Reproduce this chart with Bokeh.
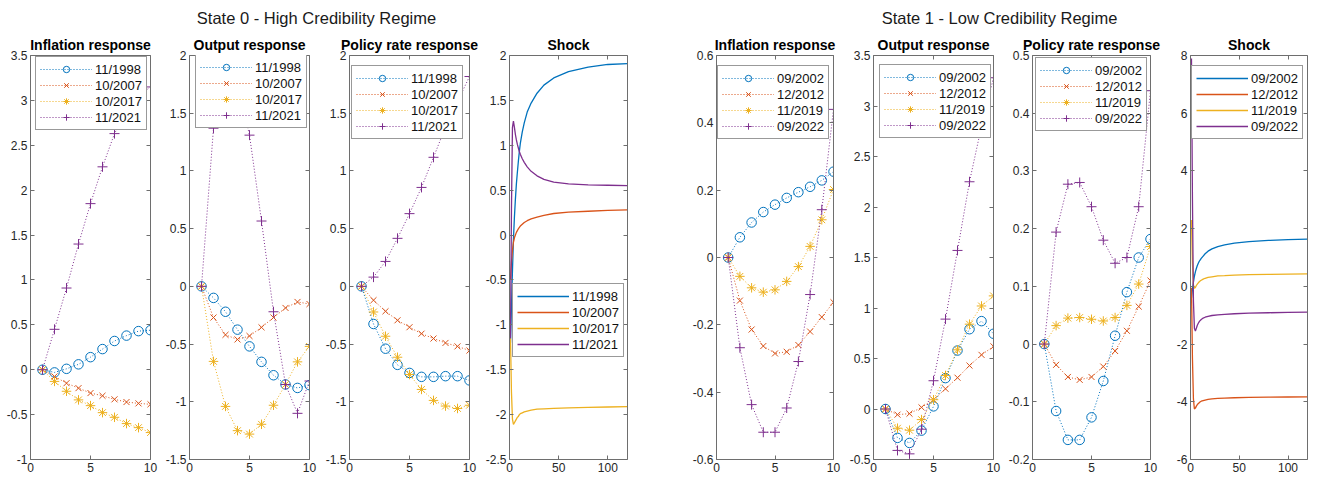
from bokeh.plotting import figure
from bokeh.models import (Range1d, LinearAxis, FixedTicker, Legend, LegendItem, Label,
                          CustomJSTickFormatter)
from bokeh.layouts import row, column
from bokeh.embed import file_html
from bokeh.resources import INLINE

# ---------------- data ----------------
x_resp = [1, 2, 3, 4, 5, 6, 7, 8, 9, 10]

labels_s0 = ["11/1998", "10/2007", "10/2017", "11/2021"]
labels_s1 = ["09/2002", "12/2012", "11/2019", "09/2022"]

# State 0 - inflation response
infl0_1998 = [0, -0.03, 0.01, 0.06, 0.14, 0.23, 0.32, 0.38, 0.43, 0.44]
infl0_2007 = [0, -0.075, -0.15, -0.205, -0.26, -0.29, -0.33, -0.36, -0.375, -0.385]
infl0_2017 = [0, -0.13, -0.24, -0.336, -0.40, -0.478, -0.53, -0.60, -0.645, -0.70]
infl0_2021 = [0, 0.45, 0.91, 1.40, 1.85, 2.26, 2.63, 2.88, 3.05, 3.15]
# State 0 - output response
out0_1998 = [0, -0.10, -0.22, -0.375, -0.52, -0.654, -0.77, -0.85, -0.88, -0.856]
out0_2007 = [0, -0.27, -0.42, -0.46, -0.43, -0.355, -0.27, -0.187, -0.135, -0.153]
out0_2017 = [0, -0.65, -1.04, -1.25, -1.28, -1.195, -1.03, -0.85, -0.654, -0.52]
out0_2021 = [0, 1.37, 1.85, 1.75, 1.31, 0.566, -0.22, -0.85, -1.1, -0.82]
# State 0 - policy rate response
pol0_1998 = [0, -0.326, -0.54, -0.68, -0.75, -0.784, -0.784, -0.778, -0.778, -0.815]
pol0_2007 = [0, -0.12, -0.216, -0.294, -0.354, -0.41, -0.452, -0.49, -0.52, -0.556]
pol0_2017 = [0, -0.222, -0.432, -0.614, -0.764, -0.893, -0.988, -1.037, -1.058, -1.03]
pol0_2021 = [0, 0.08, 0.216, 0.416, 0.63, 0.857, 1.118, 1.38, 1.6, 1.818]

# State 1 - inflation response
infl1_2002 = [0, 0.06, 0.104, 0.135, 0.157, 0.177, 0.194, 0.21, 0.229, 0.255]
infl1_2012 = [0, -0.128, -0.214, -0.263, -0.285, -0.28, -0.26, -0.22, -0.177, -0.133]
infl1_2019 = [0, -0.056, -0.09, -0.103, -0.096, -0.071, -0.027, 0.033, 0.112, 0.202]
infl1_2022 = [0, -0.268, -0.437, -0.519, -0.519, -0.447, -0.309, -0.11, 0.142, 0.44]
# State 1 - output response
out1_2002 = [0, -0.286, -0.336, -0.214, 0.026, 0.306, 0.579, 0.79, 0.87, 0.745]
out1_2012 = [0, -0.056, -0.046, 0.016, 0.092, 0.2, 0.31, 0.43, 0.536, 0.62]
out1_2019 = [0, -0.19, -0.21, -0.105, 0.092, 0.332, 0.586, 0.84, 1.02, 1.12]
out1_2022 = [0, -0.41, -0.444, -0.2, 0.28, 0.89, 1.57, 2.25, 2.8, 3.28]
# State 1 - policy rate response
pol1_2002 = [0, -0.116, -0.166, -0.166, -0.127, -0.064, 0.0145, 0.09, 0.15, 0.182]
pol1_2012 = [0, -0.036, -0.057, -0.062, -0.057, -0.039, -0.012, 0.023, 0.065, 0.11]
pol1_2019 = [0, 0.032, 0.045, 0.046, 0.043, 0.04, 0.046, 0.067, 0.104, 0.169]
pol1_2022 = [0, 0.194, 0.277, 0.28, 0.238, 0.18, 0.14, 0.15, 0.238, 0.439]

# Shock paths (sampled horizons)
shock_x = [1, 2, 3, 4, 5, 6, 7, 8, 9, 10, 11, 13, 15, 18, 22, 28, 35, 45, 60, 80, 100, 120]
shock0_1998 = [-1.2, -0.8, -0.4, -0.05, 0.2, 0.4, 0.57, 0.7, 0.82, 0.93, 1.02, 1.15, 1.25, 1.37,
               1.47, 1.58, 1.67, 1.75, 1.82, 1.87, 1.9, 1.91]
shock0_2007 = [-0.5, -0.3, -0.17, -0.08, -0.03, 0.0, 0.03, 0.05, 0.07, 0.085, 0.1, 0.12, 0.14, 0.16,
               0.18, 0.2, 0.22, 0.24, 0.255, 0.265, 0.275, 0.28]
shock0_2017 = [-1.15, -1.75, -2.05, -2.11, -2.09, -2.07, -2.05, -2.03, -2.02, -2.0, -1.99, -1.98,
               -1.97, -1.96, -1.95, -1.94, -1.935, -1.93, -1.925, -1.92, -1.915, -1.91]
shock0_2021 = [-1.15, 0.3, 1.2, 1.27, 1.2, 1.12, 1.06, 1.01, 0.97, 0.93, 0.9, 0.85, 0.81, 0.76,
               0.71, 0.66, 0.62, 0.59, 0.57, 0.56, 0.555, 0.55]
shock1_2002 = [-0.4, -0.1, 0.15, 0.35, 0.5, 0.62, 0.72, 0.8, 0.87, 0.92, 0.97, 1.05, 1.13, 1.22,
               1.3, 1.38, 1.44, 1.5, 1.55, 1.59, 1.62, 1.64]
shock1_2012 = [-0.05, -2.5, -3.9, -4.25, -4.22, -4.15, -4.1, -4.06, -4.03, -4.0, -3.98, -3.96,
               -3.94, -3.92, -3.9, -3.88, -3.87, -3.86, -3.85, -3.84, -3.835, -3.83]
shock1_2019 = [2.3, 0.8, 0.05, -0.07, -0.04, 0.03, 0.08, 0.12, 0.16, 0.19, 0.21, 0.25, 0.28, 0.31,
               0.33, 0.36, 0.37, 0.39, 0.405, 0.415, 0.425, 0.43]
shock1_2022 = [7.9, 3.0, -0.5, -1.45, -1.55, -1.45, -1.35, -1.28, -1.22, -1.18, -1.15, -1.1, -1.07,
               -1.04, -1.01, -0.99, -0.97, -0.95, -0.93, -0.915, -0.9, -0.89]

# tick values
xt_resp = [0, 5, 10]
xt_shock = [0, 50, 100]
yt_infl0 = [-1, -0.5, 0, 0.5, 1, 1.5, 2, 2.5, 3, 3.5]
yt_out0 = [-1.5, -1, -0.5, 0, 0.5, 1, 1.5, 2]
yt_pol0 = [-1.5, -1, -0.5, 0, 0.5, 1, 1.5, 2]
yt_shock0 = [-2.5, -2, -1.5, -1, -0.5, 0, 0.5, 1, 1.5, 2]
yt_infl1 = [-0.6, -0.4, -0.2, 0, 0.2, 0.4, 0.6]
yt_out1 = [-0.5, 0, 0.5, 1, 1.5, 2, 2.5, 3, 3.5]
yt_pol1 = [-0.2, -0.1, 0, 0.1, 0.2, 0.3, 0.4, 0.5]
yt_shock1 = [-6, -4, -2, 0, 2, 4, 6, 8]

# ---------------- style ----------------
FONT = "Liberation Sans"
COLORS = ["#0072BD", "#D95319", "#EDB120", "#7E2F8E"]
MARKERS = ["circle", "x", "asterisk", "cross"]
MSIZE = [9.5, 8.5, 9.5, 10]
AXC = "#6e6e6e"
TXT = "#262626"
FH = 404
HEAD_H = 30
TOP, BOT = 25, 19


def style_axis(ax, ticks, show):
    ax.ticker = FixedTicker(ticks=ticks)
    ax.major_tick_in = 4
    ax.major_tick_out = 0
    ax.minor_tick_in = 0
    ax.minor_tick_out = 0
    ax.axis_line_color = AXC
    ax.major_tick_line_color = AXC
    ax.major_label_text_font = FONT
    ax.major_label_text_color = TXT
    if show:
        ax.major_label_text_font_size = "12px"
        ax.major_label_standoff = 3
        ax.formatter = CustomJSTickFormatter(code="return tick.toString();")
    else:
        ax.major_label_text_font_size = "0px"
        ax.major_label_standoff = 0
        ax.formatter = CustomJSTickFormatter(code="return '';")


def panel(title, left, fw, right, x_end, ylo, yhi, xticks, yticks, xs, ys_list, labels,
          kind, leg_left, leg_top):
    p = figure(output_backend="svg", toolbar_location=None, title=title,
               frame_width=fw, frame_height=FH,
               min_border_left=left, min_border_right=right,
               min_border_top=TOP, min_border_bottom=BOT,
               x_range=Range1d(0, x_end), y_range=Range1d(ylo, yhi),
               x_axis_type=None, y_axis_type=None)
    p.outline_line_color = None
    p.background_fill_color = "white"
    p.title.align = "center"
    p.title.text_font = FONT
    p.title.text_font_style = "bold"
    p.title.text_font_size = "14px"
    p.title.text_color = "#000000"
    p.title.standoff = 5
    for place, ticks, show in (("below", xticks, True), ("left", yticks, True),
                               ("above", xticks, False), ("right", yticks, False)):
        ax = LinearAxis()
        style_axis(ax, ticks, show)
        p.add_layout(ax, place)

    items = []
    for i, ys in enumerate(ys_list):
        if kind == "resp":
            r1 = p.line(xs, ys, color=COLORS[i], line_alpha=1.0, line_width=1, line_dash="1 2")
            r2 = p.scatter(xs, ys, marker=MARKERS[i], size=MSIZE[i], line_color=COLORS[i],
                           fill_color=None, line_width=1)
            rs = [r1, r2]
        else:
            rs = [p.line(xs, ys, color=COLORS[i], line_alpha=1.0, line_width=1.3)]
        items.append(LegendItem(label=labels[i], renderers=rs))
    leg_h = 4 * 16 + 2 * 4
    leg = Legend(items=items, location=(leg_left, FH - leg_top - leg_h),
                 label_text_font=FONT, label_text_font_size="13px", label_text_color="#111111",
                 glyph_width=52, glyph_height=16, label_height=16, label_standoff=3,
                 padding=4, spacing=0, margin=0,
                 border_line_color="#333333", border_line_width=1,
                 background_fill_color="white", background_fill_alpha=1.0)
    p.add_layout(leg)
    return p


p1 = panel("Inflation response", 30, 120, 12, 10, -1, 3.5, xt_resp, yt_infl0, x_resp,
           [infl0_1998, infl0_2007, infl0_2017, infl0_2021], labels_s0, "resp", 5, 3)
p2 = panel("Output response", 27, 120, 12, 10, -1.5, 2, xt_resp, yt_out0, x_resp,
           [out0_1998, out0_2007, out0_2017, out0_2021], labels_s0, "resp", 6, 1)
p3 = panel("Policy rate response", 28, 120, 12, 10, -1.5, 2, xt_resp, yt_pol0, x_resp,
           [pol0_1998, pol0_2007, pol0_2017, pol0_2021], labels_s0, "resp", 2, 12)
p4 = panel("Shock", 28, 118, 12, 120, -2.5, 2, xt_shock, yt_shock0, shock_x,
           [shock0_1998, shock0_2007, shock0_2017, shock0_2021], labels_s0, "shock", 3, 230)
p5 = panel("Inflation response", 77, 117, 12, 10, -0.6, 0.6, xt_resp, yt_infl1, x_resp,
           [infl1_2002, infl1_2012, infl1_2019, infl1_2022], labels_s1, "resp", 1, 12)
p6 = panel("Output response", 28, 120, 12, 10, -0.5, 3.5, xt_resp, yt_out1, x_resp,
           [out1_2002, out1_2012, out1_2019, out1_2022], labels_s1, "resp", 6, 11)
p7 = panel("Policy rate response", 27, 118, 12, 10, -0.2, 0.5, xt_resp, yt_pol1, x_resp,
           [pol1_2002, pol1_2012, pol1_2019, pol1_2022], labels_s1, "resp", 3, 4)
p8 = panel("Shock", 28, 117, 9, 120, -6, 8, xt_shock, yt_shock1, shock_x,
           [shock1_2002, shock1_2012, shock1_2019, shock1_2022], labels_s1, "shock", 1, 12)

TOTAL_W = 1316
header = figure(output_backend="svg", toolbar_location=None, width=TOTAL_W, height=HEAD_H,
                x_range=Range1d(0, TOTAL_W), y_range=Range1d(0, HEAD_H),
                x_axis_type=None, y_axis_type=None, min_border=0)
header.outline_line_color = None
for txt, cx in (("State 0 - High Credibility Regime", 316),
                ("State 1 - Low Credibility Regime", 999)):
    header.add_layout(Label(x=cx, y=HEAD_H - 17, text=txt, text_align="center",
                            text_baseline="middle", text_font=FONT, text_font_size="16.5px",
                            text_color="#1a1a1a"))

layout = column(header, row(p1, p2, p3, p4, p5, p6, p7, p8))

open("out.html", "w").write(file_html(layout, INLINE))
